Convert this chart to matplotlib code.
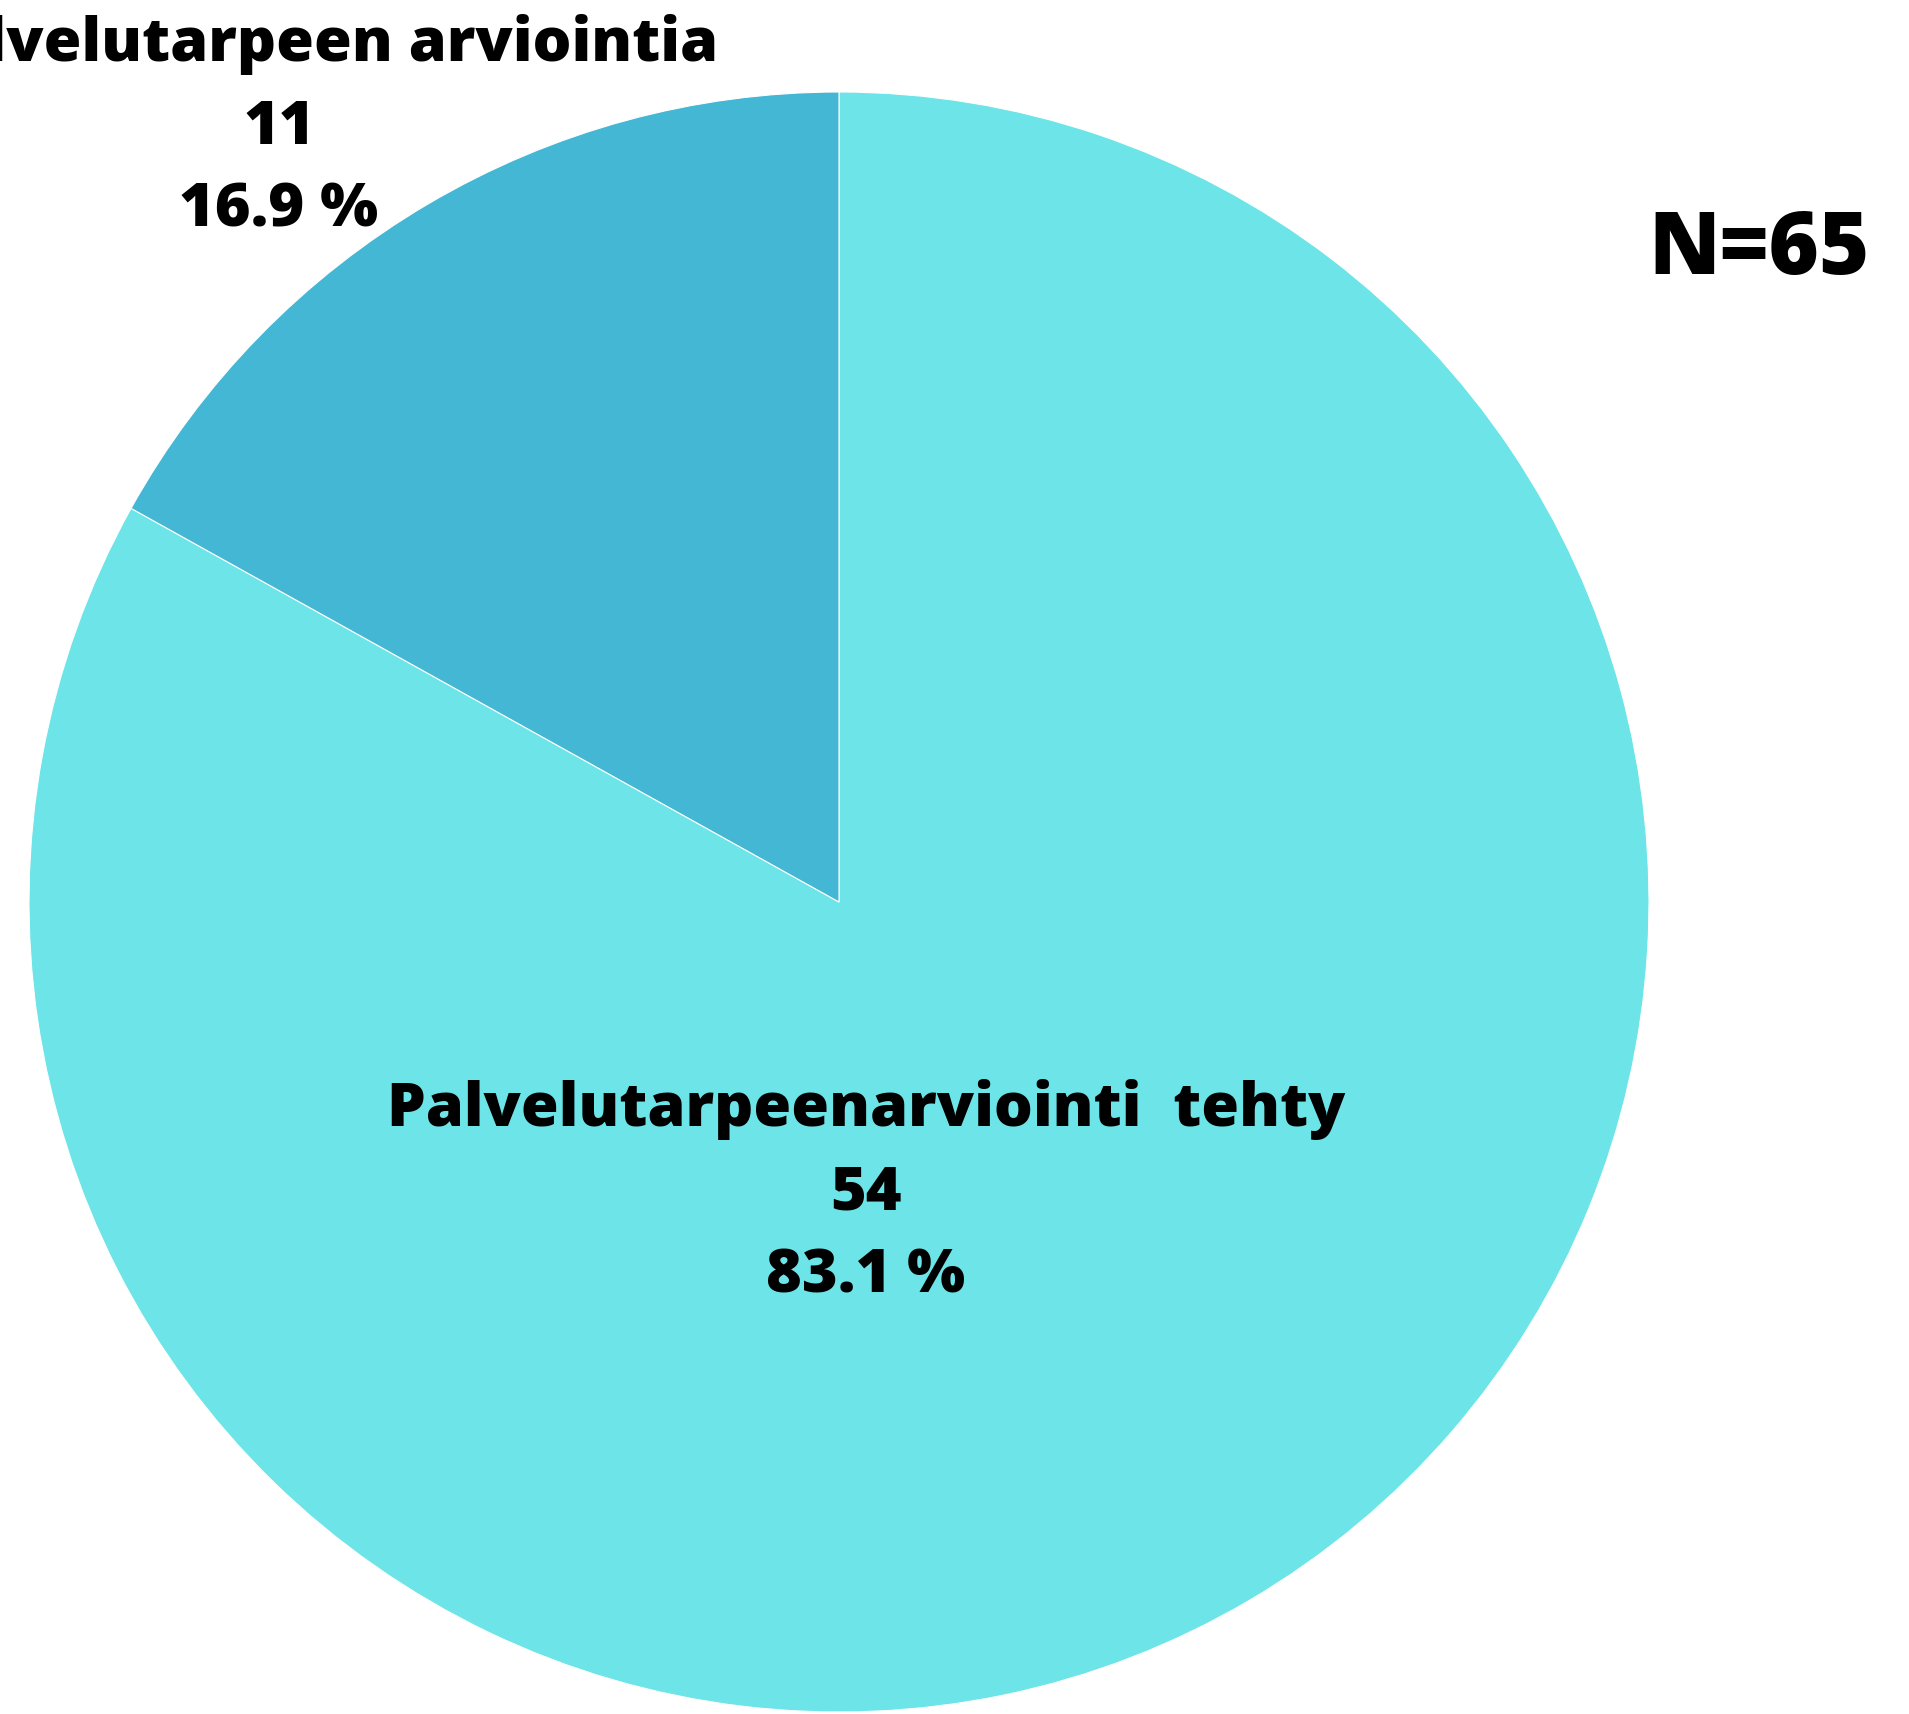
import matplotlib
matplotlib.use("Agg")
import matplotlib.pyplot as plt

labels = ["Palvelutarpeenarviointi  tehty", "Ei palvelutarpeen arviointia"]
counts = [54, 11]
colors = ["#6ce4e8", "#43b7d4"]
total_label = "N=65"

W, H = 1909, 1714
fig = plt.figure(figsize=(W / 100, H / 100), dpi=100)
ax = fig.add_axes([0, 0, 1, 1])

total = sum(counts)
wedges, _ = ax.pie(counts, colors=colors, startangle=90, counterclock=False,
                   center=(839, H - 902), radius=810,
                   wedgeprops=dict(edgecolor="white", linewidth=0.8))
ax.set_xlim(0, W)
ax.set_ylim(0, H)
ax.set_aspect("equal")
ax.axis("off")

font = dict(family=["Open Sans", "DejaVu Sans"], fontweight="heavy", color="black")

# label positions (pixels from top)
pos = [(866, 1193), (279, 127)]
for (x, y), lab, c in zip(pos, labels, counts):
    txt = f"{lab}\n{c}\n{c / total * 100:.1f} %"
    ax.text(x, H - y, txt, ha="center", va="center", fontsize=44,
            linespacing=1.5, **font)

ax.text(1759, H - 251, total_label, ha="center", va="center", fontsize=62, **font)

fig.savefig("out.png", dpi=100)
